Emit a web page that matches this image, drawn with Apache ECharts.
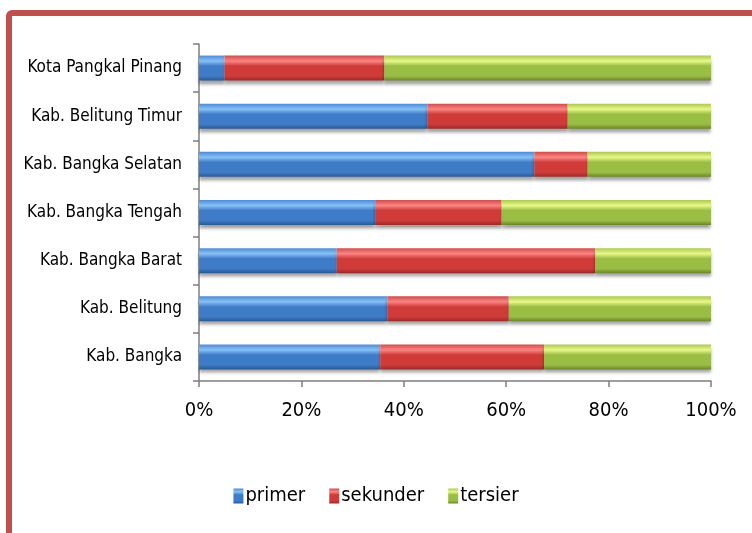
<!DOCTYPE html>
<html>
<head>
<meta charset="utf-8">
<script src="https://cdn.jsdelivr.net/npm/echarts@6/dist/echarts.min.js"></script>
<style>
  html, body { margin: 0; padding: 0; background: #fff; overflow: hidden; }
  #frame {
    position: absolute; left: 6px; top: 10px; width: 780px; height: 560px;
    border: 6px solid #c0504d; border-radius: 6px; box-sizing: border-box;
  }
  #chart { position: absolute; left: 0; top: 0; width: 752px; height: 533px; }
</style>
</head>
<body>
<div id="frame"></div>
<div id="chart"></div>
<script>
// categories top to bottom
const categories = ['Kota Pangkal Pinang', 'Kab. Belitung Timur', 'Kab. Bangka Selatan',
  'Kab. Bangka Tengah', 'Kab. Bangka Barat', 'Kab. Belitung', 'Kab. Bangka'];
const primer   = [5.0, 44.6, 65.5, 34.4, 26.9, 36.8, 35.4];
const sekunder = [31.2, 27.4, 10.4, 24.7, 50.5, 23.7, 32.0];
const tersier  = [63.8, 28.0, 24.1, 40.9, 22.6, 39.5, 32.6];
const seriesNames = ['primer', 'sekunder', 'tersier'];

const FONT = "'Liberation Sans Narrow', 'DejaVu Sans Condensed', 'Liberation Sans', sans-serif";

function gloss(top, light, mid, dark) {
  return new echarts.graphic.LinearGradient(0, 0, 0, 1, [
    { offset: 0, color: top },
    { offset: 0.22, color: light },
    { offset: 0.42, color: mid },
    { offset: 0.82, color: mid },
    { offset: 1, color: dark }
  ]);
}
const styles = [
  { color: gloss('#4f8ad6', '#86c1f7', '#3f7cc8', '#2a5890'), legend: '#3a72bb' },
  { color: gloss('#d04c4a', '#fb8584', '#cf3b39', '#9a2a29'), legend: '#bf3c39' },
  { color: gloss('#aac84e', '#e8f88a', '#9abd44', '#68852a'), legend: '#8fb03f' }
];

const chart = echarts.init(document.getElementById('chart'));
chart.setOption({
  animation: false,
  backgroundColor: 'transparent',
  textStyle: { fontFamily: FONT },
  grid: { left: 199, right: 41, top: 44, bottom: 152 },
  legend: {
    bottom: 22, left: 'center',
    itemWidth: 10, itemHeight: 15, itemGap: 24,
    icon: 'rect',
    textStyle: { fontSize: 20, color: '#000', fontFamily: FONT, padding: [0, 0, 0, -3] },
    data: seriesNames
  },
  xAxis: {
    type: 'value', min: 0, max: 100, interval: 20,
    axisLine: { show: true, lineStyle: { color: '#7f7f7f', width: 1.5 } },
    axisTick: { show: true, length: 6, lineStyle: { color: '#7f7f7f', width: 1.5 } },
    splitLine: { show: false },
    axisLabel: { formatter: '{value}%', fontSize: 20, color: '#000', margin: 20, fontFamily: FONT }
  },
  yAxis: {
    type: 'category', inverse: true, data: categories,
    axisLine: { show: true, lineStyle: { color: '#7f7f7f', width: 1.5 } },
    axisTick: { show: true, length: 6, lineStyle: { color: '#7f7f7f', width: 1.5 } },
    axisLabel: { fontSize: 17, color: '#000', margin: 17, fontFamily: FONT }
  },
  series: [primer, sekunder, tersier].map((vals, i) => ({
    name: seriesNames[i],
    type: 'bar', stack: 'total', barWidth: '52%',
    data: vals,
    itemStyle: {
      color: styles[i].color,
      shadowColor: 'rgba(0,0,0,0.35)', shadowBlur: 3, shadowOffsetY: 4
    }
  })),
  color: styles.map(s => s.legend)
});
</script>
</body>
</html>
